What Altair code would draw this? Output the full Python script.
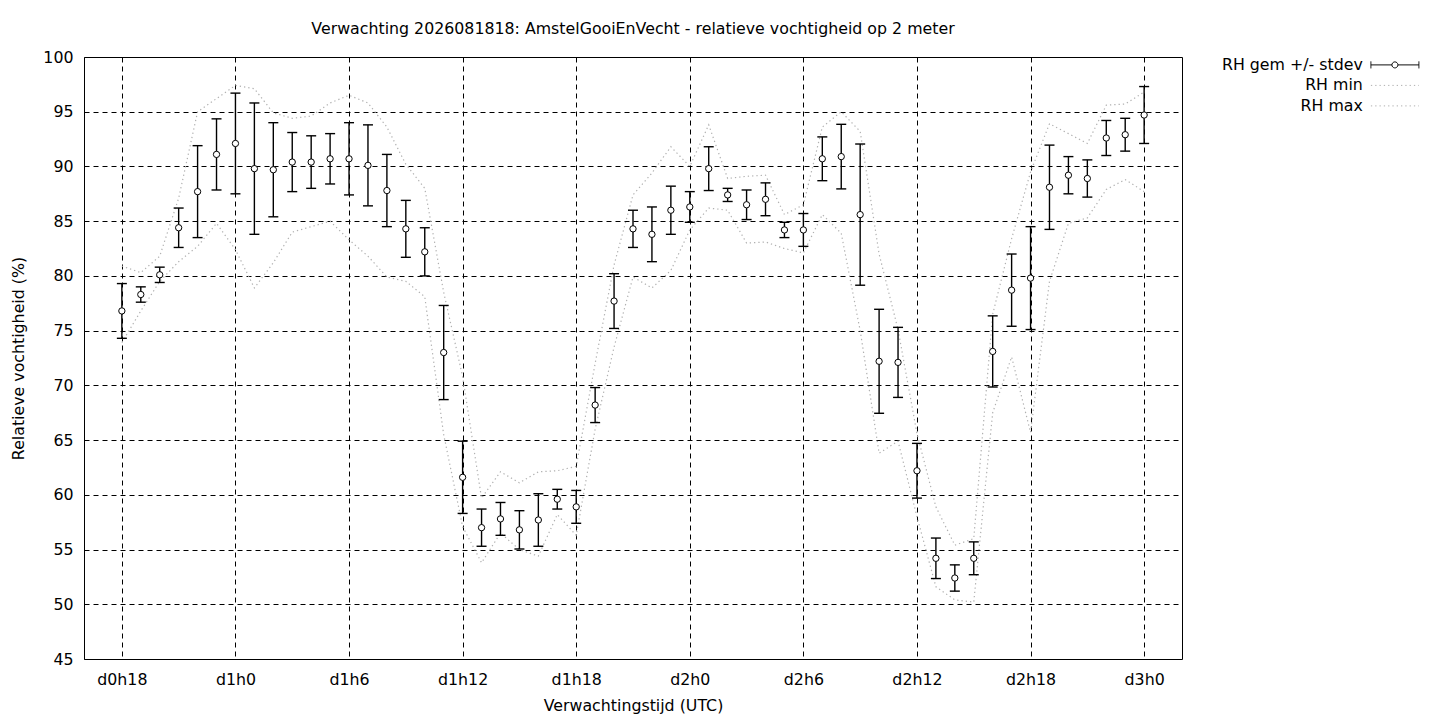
import altair as alt
import pandas as pd

hours = list(range(18, 73))
rh_mean = [76.8, 78.3, 80.1, 84.4, 87.7, 91.1, 92.1, 89.8, 89.7, 90.4,
           90.4, 90.7, 90.7, 90.1, 87.8, 84.3, 82.2, 73.0, 61.6, 57.0,
           57.8, 56.8, 57.7, 59.6, 58.9, 68.2, 77.7, 84.3, 83.8, 86.0,
           86.3, 89.8, 87.4, 86.5, 87.0, 84.2, 84.2, 90.7, 90.9, 85.6,
           72.2, 72.1, 62.2, 54.2, 52.4, 54.2, 73.1, 78.7, 79.8, 88.1,
           89.2, 88.9, 92.6, 92.9, 94.7]
rh_sd = [2.5, 0.7, 0.7, 1.8, 4.2, 3.25, 4.6, 6.0, 4.3, 2.7,
         2.4, 2.3, 3.3, 3.7, 3.3, 2.6, 2.2, 4.3, 3.3, 1.7,
         1.5, 1.75, 2.4, 0.9, 1.5, 1.6, 2.5, 1.7, 2.5, 2.2,
         1.4, 2.0, 0.6, 1.35, 1.5, 0.7, 1.5, 2.0, 2.95, 6.45,
         4.75, 3.2, 2.5, 1.85, 1.2, 1.5, 3.25, 3.3, 4.7, 3.85,
         1.7, 1.7, 1.6, 1.5, 2.6]
rh_min = [73.9, 76.8, 79.5, 81.3, 82.7, 84.8, 82.4, 78.9, 81.2, 84.0,
          84.5, 85.0, 83.3, 81.8, 79.9, 79.5, 78.1, 65.5, 57.1, 53.8,
          56.5, 55.0, 54.4, 58.2, 56.3, 66.0, 73.5, 79.9, 78.9, 80.5,
          84.2, 86.2, 86.0, 83.0, 83.1, 82.5, 82.1, 85.6, 83.9, 75.0,
          63.8, 64.9, 58.0, 51.6, 50.4, 50.2, 67.5, 72.6, 65.7, 79.5,
          84.8, 85.3, 87.9, 88.8, 87.7]
rh_max = [80.9, 80.3, 81.8, 87.1, 95.0, 96.2, 97.4, 97.1, 94.9, 94.4,
          94.6, 95.8, 96.5, 95.8, 93.6, 90.2, 88.0, 78.5, 70.8, 59.7,
          62.1, 61.1, 62.1, 62.2, 62.6, 72.0, 81.0, 87.4, 89.4, 91.8,
          90.0, 93.8, 88.9, 89.1, 89.2, 85.6, 86.5, 93.6, 95.0, 93.2,
          82.0, 75.1, 65.6, 58.9, 55.4, 56.0, 76.5, 83.4, 89.5, 93.9,
          93.0, 92.1, 95.6, 95.7, 96.8]

x_ticks = [18, 24, 30, 36, 42, 48, 54, 60, 66, 72]
y_ticks = [45, 50, 55, 60, 65, 70, 75, 80, 85, 90, 95, 100]
series = ["RH gem +/- stdev", "RH min", "RH max"]

title_text = "Verwachting 2026081818: AmstelGooiEnVecht - relatieve vochtigheid op 2 meter"

df = pd.DataFrame({"hour": hours, "mean": rh_mean, "sd": rh_sd,
                   "min": rh_min, "max": rh_max})

FONT = "DejaVu Sans"
FS = 15.8
GRAY = "#b0b0b0"

x_enc = alt.X("hour:Q",
              scale=alt.Scale(domain=[16, 74], nice=False, zero=False),
              axis=alt.Axis(values=x_ticks,
                            labelExpr="'d' + floor(datum.value / 24) + 'h' + (datum.value % 24)",
                            title="Verwachtingstijd (UTC)"))
y_scale = alt.Scale(domain=[45, 100], nice=False, zero=False)
y_axis = alt.Axis(values=y_ticks, title="Relatieve vochtigheid (%)")

base = alt.Chart(df).transform_calculate(
    lo="datum.mean - datum.sd", hi="datum.mean + datum.sd")

line_min = base.mark_line(color=GRAY, strokeDash=[1.3, 3], strokeWidth=1.2).encode(
    x=x_enc, y=alt.Y("min:Q", scale=y_scale, axis=y_axis))
line_max = base.mark_line(color=GRAY, strokeDash=[1.3, 3], strokeWidth=1.2).encode(
    x=x_enc, y=alt.Y("max:Q", scale=y_scale, axis=y_axis))

bars = base.mark_rule(color="black", strokeWidth=1.4).encode(
    x=x_enc, y=alt.Y("lo:Q", scale=y_scale, axis=y_axis), y2="hi:Q")
cap_lo = base.mark_tick(orient="horizontal", color="black", size=10,
                        thickness=1.4, opacity=1).encode(
    x=x_enc, y=alt.Y("lo:Q", scale=y_scale, axis=y_axis))
cap_hi = base.mark_tick(orient="horizontal", color="black", size=10,
                        thickness=1.4, opacity=1).encode(
    x=x_enc, y=alt.Y("hi:Q", scale=y_scale, axis=y_axis))
points = base.mark_point(shape="circle", size=40, filled=True, fill="white",
                         stroke="black", strokeWidth=1, opacity=1).encode(
    x=x_enc, y=alt.Y("mean:Q", scale=y_scale, axis=y_axis))

errbar_path = ("M-4.8,-0.7L-4.8,0.7M-4.8,0L-0.6,0M0.6,0L4.8,0M4.8,-0.7L4.8,0.7"
               "M0.6,0A0.6,0.6,0,1,1,-0.6,0A0.6,0.6,0,1,1,0.6,0Z")
line_path = "M-4.8,0L4.8,0"

leg = alt.Legend(title=None, orient="none", legendX=1303, legendY=0,
                 labelAlign="right", labelOffset={"expr": "-40"}, symbolSize=100,
                 symbolStrokeWidth=1, rowPadding=3.5, padding=0,
                 labelFont=FONT, labelFontSize=FS, labelColor="black",
                 symbolOpacity=1)

legend_layer = alt.Chart(df).transform_calculate(series="'x'").transform_filter(
    "false").mark_point(filled=False, fill="white", opacity=1).encode(
    color=alt.Color("series:N", scale=alt.Scale(domain=series,
                    range=["black", GRAY, GRAY]), legend=leg),
    shape=alt.Shape("series:N", scale=alt.Scale(domain=series,
                    range=[errbar_path, line_path, line_path]), legend=leg),
    strokeDash=alt.StrokeDash("series:N", scale=alt.Scale(domain=series,
                    range=[[1, 0], [1.3, 3], [1.3, 3]]), legend=leg),
)

chart = alt.layer(line_min, line_max, bars, cap_lo, cap_hi, points, legend_layer).properties(
    width=1098, height=602,
    background="white",
    title=alt.TitleParams(title_text, font=FONT, fontSize=FS, fontWeight="normal",
                          color="black", anchor="middle", frame="group", offset=11),
    autosize=alt.AutoSizeParams(type="none"),
    padding={"left": 76, "top": 49, "right": 250, "bottom": 60},
).configure_view(
    stroke="black", strokeWidth=1
).configure_axis(
    labelFont=FONT, labelFontSize=FS, labelColor="black",
    titleFont=FONT, titleFontSize=FS, titleFontWeight="normal", titleColor="black",
    grid=True, gridColor="black", gridDash=[5, 4], gridWidth=1, gridOpacity=1,
    domain=False, ticks=False, tickSize=0,
).configure_axisX(
    labelPadding=13, titlePadding=12
).configure_axisY(
    labelPadding=11, titlePadding=16
)

chart.save("out.html", embed_options={"renderer": "svg", "actions": False})
